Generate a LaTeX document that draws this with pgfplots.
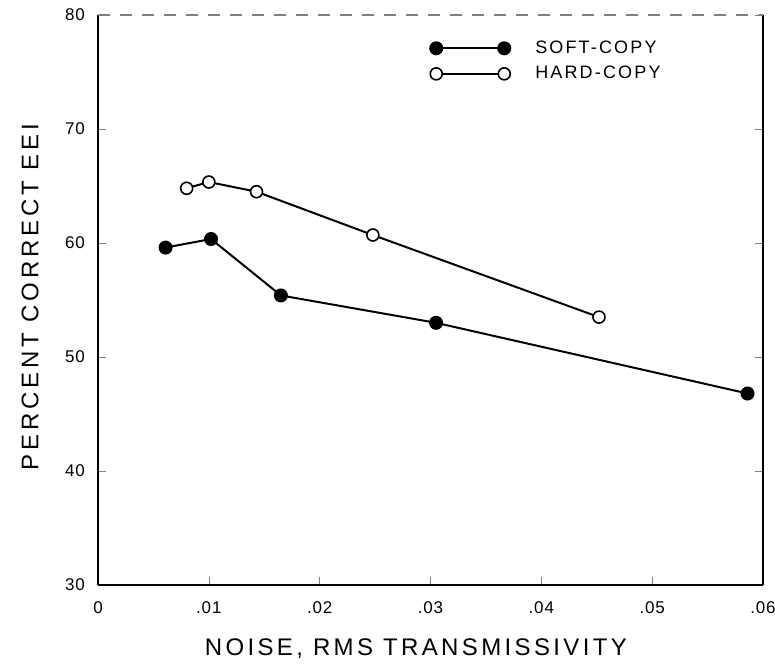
\documentclass[border=0pt]{standalone}
\usepackage{pgfplots}
\pgfplotsset{compat=1.18}
\usepackage{fontspec}
\setmainfont{Liberation Sans}
\newfontfamily\lsfont[LetterSpace=12]{Liberation Sans}
\newfontfamily\tkfont[LetterSpace=5]{Liberation Sans}
\newfontfamily\lbfont[LetterSpace=16]{Liberation Sans}
\newfontfamily\lxfont[LetterSpace=14]{Liberation Sans}
\begin{document}
\begin{tikzpicture}
\begin{axis}[
  name=ax,
  scale only axis,
  width=332.5pt, height=285pt,
  xmin=0, xmax=0.06, ymin=30, ymax=80,
  scaled x ticks=false,
  xtick={0,0.01,0.02,0.03,0.04,0.05,0.06},
  xticklabels={0,.01,.02,.03,.04,.05,.06},
  ytick={30,40,50,60,70,80},
  /pgf/number format/assume math mode=true,
  ticklabel style={font=\tkfont\fontsize{8.5}{10}\selectfont},
  axis x line*=bottom,
  axis y line*=box,
  tick align=inside,
  major tick length=4pt,
  axis line style={line width=0.8pt},
  xlabel={NOISE, RMS TRANSMISSIVITY},
  ylabel={PERCENT CORRECT EEI},
  every axis x label/.style={at={(axis description cs:0.478,-0.112)}, anchor=center, font=\lxfont\fontsize{12}{14}\selectfont},
  every axis y label/.style={at={(axis description cs:-0.102,0.505)}, anchor=center, rotate=90, font=\lbfont\fontsize{12}{14}\selectfont},
  xticklabel style={yshift=-5pt},
  yticklabel style={xshift=-3pt},
  legend style={draw=none, fill=none, at={(axis description cs:0.49,0.97)}, anchor=north west, font=\lsfont\fontsize{9}{11}\selectfont, row sep=1pt},
  legend cell align=left,
  legend image code/.code={\draw plot coordinates {(0pt,0pt) (34pt,0pt)}; \path (47pt,0pt);},
]
\addplot[black, line width=1pt, mark=*, mark size=3pt, mark options={fill=black}] coordinates {
(0.0061,59.6) (0.0102,60.35) (0.0165,55.4) (0.0305,53.0) (0.0586,46.8)};
\addlegendentry{SOFT-COPY}
\addplot[black, line width=1pt, mark=*, mark size=3pt, mark options={fill=white, line width=0.8pt}] coordinates {
(0.0080,64.8) (0.0100,65.35) (0.0143,64.5) (0.0248,60.7) (0.0452,53.5)};
\addlegendentry{HARD-COPY}
\draw[gray, dash pattern=on 6pt off 5pt, line width=0.6pt] (rel axis cs:0,1) -- (rel axis cs:1,1);
\end{axis}
\pgfresetboundingbox
\path ([shift={(-49pt,-39pt)}]ax.south west) rectangle ([shift={(6pt,7.5pt)}]ax.north east);
\end{tikzpicture}
\end{document}
